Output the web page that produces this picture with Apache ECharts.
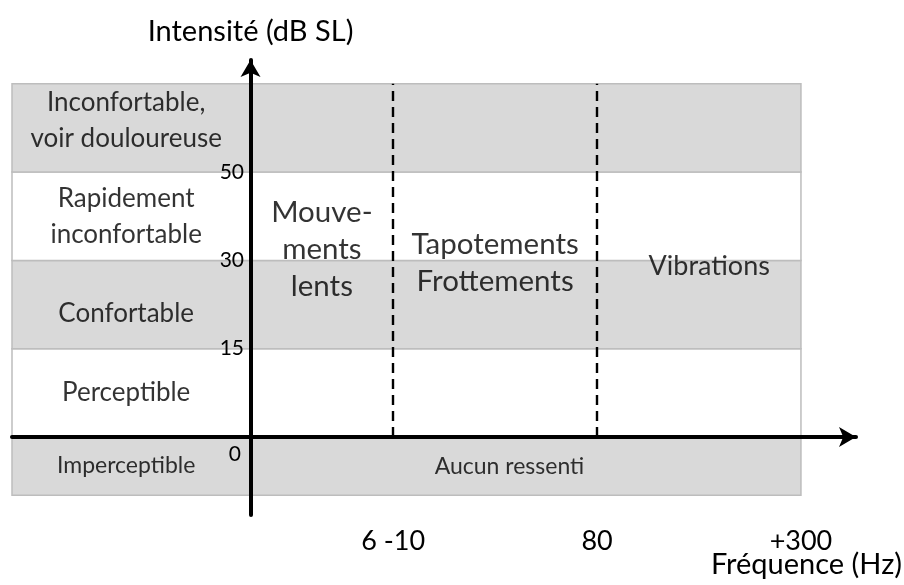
<!DOCTYPE html>
<html>
<head>
<meta charset="utf-8">
<script src="https://cdn.jsdelivr.net/npm/echarts@6/dist/echarts.min.js"></script>
<style>
  html, body { margin: 0; padding: 0; background: #fff; }
  #chart { width: 904px; height: 585px; }
</style>
</head>
<body>
<div id="chart"></div>
<script>
// intensity levels (schematic scale): 0 -> 0 dB, 1 -> 15 dB, 2 -> 30 dB, 3 -> 50 dB
const tickLevels = [0, 1, 2, 3];
const tickLabels = ["0", "15", "30", "50"];

// bands from bottom to top, in level units
const bandNames = ["Imperceptible", "Perceptible", "Confortable", "Rapidement\ninconfortable", "Inconfortable,\nvoir douloureuse"];
const bandLow = [-0.66, 0, 1, 2, 3];
const bandHigh = [0, 1, 2, 3, 4];
const bandLabelLevel = [-0.32, 0.5, 1.4, 2.5, 3.58];
const bandColors = ["#d9d9d9", "#ffffff", "#d9d9d9", "#ffffff", "#d9d9d9"];

// frequency classes
const freqPos = [0.7, 1.7, 2.7];
const freqLabels = ["6 -10", "80", "+300"];
const regionNames = ["Mouve-\nments\nlents", "Tapotements\nFrottements", "Vibrations"];
const regionX = [0.35, 1.2, 2.25];
const regionY = [2.12, 1.97, 1.93];

const bandLeft = -1.17;
const bandRight = 2.7;
const font = "Lato, 'Open Sans', sans-serif";
const ink = "#000";

const chart = echarts.init(document.getElementById("chart"));

const bandData = bandNames.map((n, i) => [bandLow[i], bandHigh[i], i]);
// the lowest band label is set smaller, like "Aucun ressenti"
const bandLabelData = bandNames.map((n, i) => ({
  value: [-0.61, bandLabelLevel[i], n],
  label: i === 0 ? { fontSize: 23 } : {},
}));
const regionData = regionNames.map((n, i) => ({
  value: [regionX[i], regionY[i], n],
  label: i === 2 ? { fontSize: 27 } : {},
}));

chart.setOption({
  animation: false,
  grid: { left: 12, right: 48, top: 60, bottom: 70, outerBoundsMode: "none" },
  xAxis: {
    type: "value",
    min: -1.17,
    max: 2.97,
    splitLine: { show: false },
    axisTick: { show: false },
    axisLine: {
      onZero: true,
      symbol: ["none", "arrow"],
      symbolSize: [15, 17],
      lineStyle: { color: "#000", width: 4 },
    },
    axisLabel: {
      customValues: freqPos,
      formatter: (v) => freqLabels[freqPos.indexOf(v)] || "",
      margin: 13,
      fontSize: 27,
      color: ink,
      fontFamily: font,
    },
    name: "Fréquence (Hz)",
    nameLocation: "end",
    nameGap: 46,
    nameMoveOverlap: false,
    nameTextStyle: {
      align: "right",
      verticalAlign: "top",
      padding: [113, 0, 0, 0],
      fontSize: 29,
      color: ink,
      fontFamily: font,
    },
    z: 10,
  },
  yAxis: {
    type: "value",
    min: -0.884,
    max: 4.27,
    splitLine: { show: false },
    axisTick: { show: false },
    axisLine: {
      onZero: true,
      symbol: ["none", "arrow"],
      symbolSize: [15, 17],
      lineStyle: { color: "#000", width: 4 },
    },
    axisLabel: {
      customValues: tickLevels,
      formatter: (v) => {
        const t = tickLabels[tickLevels.indexOf(v)] || "";
        return v === 0 ? "{z|" + t + "}" : t;
      },
      margin: -232,
      fontSize: 21,
      color: ink,
      fontFamily: font,
      rich: { z: { fontSize: 21, fontFamily: font, color: ink, padding: [34, 3, 0, 0] } },
    },
    name: "Intensité (dB SL)",
    nameLocation: "end",
    nameGap: 14,
    nameTextStyle: { fontSize: 29, color: ink, fontFamily: font },
    z: 10,
  },
  series: [
    {
      type: "custom",
      silent: true,
      z: 1,
      data: bandData,
      renderItem: (params, api) => {
        const p1 = api.coord([bandLeft, api.value(1)]);
        const p2 = api.coord([bandRight, api.value(0)]);
        return {
          type: "rect",
          shape: { x: p1[0], y: p1[1], width: p2[0] - p1[0], height: p2[1] - p1[1] },
          style: { fill: bandColors[api.value(2)], stroke: "#bdbdbd", lineWidth: 1.5 },
        };
      },
      markLine: {
        silent: true,
        symbol: "none",
        label: { show: false },
        lineStyle: { color: "#000", width: 2.4, type: [10, 6] },
        data: freqPos.slice(0, 2).map((x) => [{ coord: [x, 0] }, { coord: [x, 4] }]),
      },
    },
    {
      type: "scatter",
      silent: true,
      z: 5,
      symbolSize: 0,
      data: bandLabelData,
      label: {
        show: true,
        position: "inside",
        formatter: (p) => p.value[2],
        fontSize: 26,
        lineHeight: 36,
        color: ink,
        fontFamily: font,
      },
    },
    {
      type: "scatter",
      silent: true,
      z: 5,
      symbolSize: 0,
      data: regionData,
      label: {
        show: true,
        position: "inside",
        formatter: (p) => p.value[2],
        fontSize: 29.5,
        lineHeight: 37,
        color: ink,
        fontFamily: font,
      },
    },
    {
      type: "scatter",
      silent: true,
      z: 5,
      symbolSize: 0,
      data: [[1.27, -0.33, "Aucun ressenti"]],
      label: {
        show: true,
        position: "inside",
        formatter: (p) => p.data[2],
        fontSize: 23,
        color: ink,
        fontFamily: font,
      },
    },
  ],
});
</script>
</body>
</html>
